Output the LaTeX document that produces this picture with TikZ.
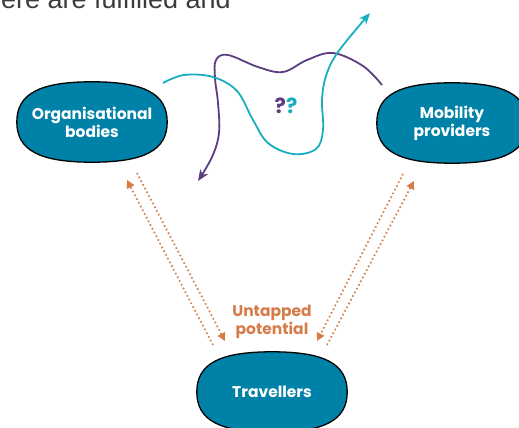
\documentclass[tikz,border=0pt]{standalone}
\usepackage{fontspec}
\setmainfont{Poppins}
\newfontfamily\headfont{Liberation Sans}
\usetikzlibrary{arrows.meta,calc,backgrounds}
\definecolor{boxblue}{RGB}{0,130,168}
\definecolor{wavepurple}{RGB}{92,62,128}
\definecolor{waveteal}{RGB}{24,174,190}
\definecolor{dotorange}{RGB}{214,124,72}
\definecolor{headgrey}{RGB}{60,60,60}
\tikzset{
  actor/.style={inner sep=0pt, minimum width=150pt, minimum height=80pt,
    text=white, align=center, font=\bfseries\fontsize{15.5}{18}\selectfont},
  blobline/.style={draw=black, line width=1.3pt, fill=boxblue},
  flow/.style={dotorange, line width=1.7pt, dash pattern=on 1.6pt off 2.6pt,
    -{Triangle[length=8pt,width=8pt]}},
  wave/.style={line width=1.8pt, smooth, tension=0.6,
    -{Stealth[length=11pt,width=9pt,inset=3pt]}},
}
% squarish oval drawn around a node, on the background layer
\newcommand\actorblob[1]{%
  \begin{scope}[on background layer]
  \draw[blobline]
    (#1.west) .. controls ($(#1.west)!0.7!(#1.north west)$) and ($(#1.north)!0.7!(#1.north west)$) ..
    (#1.north) .. controls ($(#1.north)!0.7!(#1.north east)$) and ($(#1.east)!0.7!(#1.north east)$) ..
    (#1.east) .. controls ($(#1.east)!0.7!(#1.south east)$) and ($(#1.south)!0.7!(#1.south east)$) ..
    (#1.south) .. controls ($(#1.south)!0.7!(#1.south west)$) and ($(#1.west)!0.7!(#1.south west)$) ..
    (#1.west) -- cycle;
  \end{scope}}
\begin{document}
\begin{tikzpicture}[x=1pt,y=-1pt]
\clip (0,0) rectangle (519,428);

% running text above the figure
\node[anchor=base east, inner sep=0pt, text=headgrey,
  font=\headfont\fontsize{27}{30}\selectfont] (head) at (231,9) {ere are fulfilled and};

% the three actors
\node[actor] (org) at (92,122) {Organisational\\bodies};
\node[actor] (mob) at (452,123) {Mobility\\providers};
\node[actor] (trav) at (272,392) {Travellers};
\actorblob{org}
\actorblob{mob}
\actorblob{trav}

% tangled exchange between the upper actors
\draw[wave, wavepurple] plot coordinates {(382,85) (363,66) (333,53) (307,60) (283,72) (258,67) (228,55) (216,60) (215,78) (218,103) (219,133) (212,157) (198,181)};
\draw[wave, waveteal] plot coordinates {(163,83) (184,75) (213,77) (237,91) (253,120) (268,143) (293,154) (316,149) (323,130) (322,100) (326,76) (338,52) (370,13)};

\node[font=\bfseries\fontsize{21}{22}\selectfont] (qq) at (286,106)
  {\textcolor{wavepurple}{?}\textcolor{waveteal}{?}};

% untapped links towards the travellers
\coordinate (orgA) at (213,345); \coordinate (orgB) at (127,180);
\coordinate (orgC) at (137,173); \coordinate (orgD) at (225,341);
\coordinate (mobA) at (327,345); \coordinate (mobB) at (414,181);
\coordinate (mobC) at (403,174); \coordinate (mobD) at (317,341);
\draw[flow] (orgA) -- (orgB);
\draw[flow] (orgC) -- (orgD);
\draw[flow] (mobA) -- (mobB);
\draw[flow] (mobC) -- (mobD);

\node[text=dotorange, align=center, font=\bfseries\fontsize{15.5}{17.5}\selectfont] (gap) at (272,322)
  {Untapped\\potential};
\end{tikzpicture}
\end{document}
